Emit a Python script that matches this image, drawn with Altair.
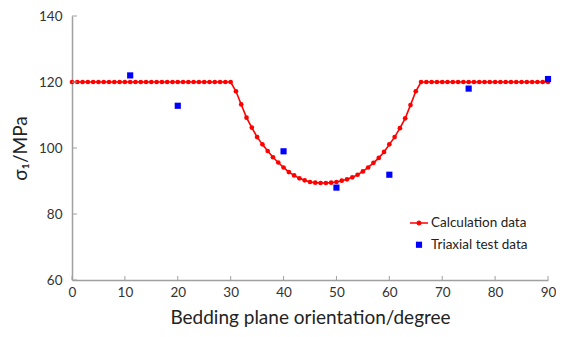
import altair as alt
import pandas as pd

# ---------------- data ----------------
angle = [0, 1, 2, 3, 4, 5, 6, 7, 8, 9, 10, 11, 12, 13, 14, 15, 16, 17, 18, 19, 20,
         21, 22, 23, 24, 25, 26, 27, 28, 29, 30, 31, 32, 33, 34, 35, 36, 37, 38, 39, 40,
         41, 42, 43, 44, 45, 46, 47, 48, 49, 50, 51, 52, 53, 54, 55, 56, 57, 58, 59, 60,
         61, 62, 63, 64, 65, 66, 67, 68, 69, 70, 71, 72, 73, 74, 75, 76, 77, 78, 79, 80,
         81, 82, 83, 84, 85, 86, 87, 88, 89, 90]
sigma_calc = [120, 120, 120, 120, 120, 120, 120, 120, 120, 120, 120,
              120, 120, 120, 120, 120, 120, 120, 120, 120, 120,
              120, 120, 120, 120, 120, 120, 120, 120, 120, 120,
              117.2, 113.2, 109.2, 106.2, 103.3, 101.1, 99.1, 97.2, 95.6, 94.1,
              92.7, 91.7, 90.8, 90.2, 89.7, 89.5, 89.4, 89.4, 89.5, 89.7,
              90.1, 90.5, 91.1, 91.9, 92.9, 94.1, 95.5, 97.0, 98.8, 101.1,
              103.3, 106.0, 109.0, 113.0, 117.2, 120, 120, 120, 120, 120,
              120, 120, 120, 120, 120, 120, 120, 120, 120, 120,
              120, 120, 120, 120, 120, 120, 120, 120, 120, 120]
test_angle = [11, 20, 40, 50, 60, 75, 90]
sigma_test = [122.0, 112.8, 99.0, 88.0, 91.9, 118.0, 120.9]

series_names = ["Calculation data", "Triaxial test data"]
x_ticks = [0, 10, 20, 30, 40, 50, 60, 70, 80, 90]
y_ticks = [60, 80, 100, 120, 140]

# ---------------- styling ----------------
RED = "#ff0000"
BLUE = "#0000ff"
AXIS_GREY = "#a0a0a0"
FONT = "Lato"
W, H = 476, 264

calc = pd.DataFrame({"angle": angle, "sigma": sigma_calc})
test = pd.DataFrame({"angle": test_angle, "sigma": sigma_test})
legend_df = pd.DataFrame({"series": series_names})
xt = pd.DataFrame({"angle": x_ticks})
yt = pd.DataFrame({"sigma": y_ticks})

xs = alt.Scale(domain=[0, 90], nice=False, zero=False)
ys = alt.Scale(domain=[60, 140], nice=False, zero=False)

x_axis = alt.Axis(values=x_ticks, ticks=False, tickSize=0, grid=False, labelFlush=False,
                  domainColor=AXIS_GREY, domainWidth=1.5,
                  labelFont=FONT, labelFontSize=13.5, labelColor="#333333", labelPadding=5,
                  title="Bedding plane orientation/degree", titleFont=FONT,
                  titleFontSize=19, titleFontWeight="normal", titleColor="#222222",
                  titlePadding=10)
y_axis = alt.Axis(values=y_ticks, ticks=False, tickSize=0, grid=False, labelFlush=False,
                  domainColor=AXIS_GREY, domainWidth=1.5,
                  labelFont=FONT, labelFontSize=13.5, labelColor="#333333", labelPadding=10,
                  title="σ₁/MPa", titleFont=FONT,
                  titleFontSize=19, titleFontWeight="normal", titleColor="#222222",
                  titlePadding=8)

X = alt.X("angle:Q", scale=xs, axis=x_axis)
Y = alt.Y("sigma:Q", scale=ys, axis=y_axis)

line = alt.Chart(calc).mark_line(color=RED, strokeWidth=1.6).encode(x=X, y=Y)
dots = alt.Chart(calc).mark_circle(color=RED, size=22, opacity=1).encode(x=X, y=Y)
squares = alt.Chart(test).mark_square(color=BLUE, size=38, opacity=1).encode(x=X, y=Y)

xticks = alt.Chart(xt).mark_rule(color=AXIS_GREY, strokeWidth=1).encode(
    x=X, y=alt.value(H), y2=alt.value(H - 4))
yticks = alt.Chart(yt).mark_rule(color=AXIS_GREY, strokeWidth=1).encode(
    y=Y, x=alt.value(0), x2=alt.value(5))

line_symbol = ("M-1,-0.085H1V0.085H-1Z"
               "M0.28,0A0.28,0.28 0 1,1 -0.28,0A0.28,0.28 0 1,1 0.28,0Z")
legend = alt.Legend(title=None, orient="none", legendX=337, legendY=197,
                    labelFont=FONT, labelFontSize=13.5, labelColor="#222222",
                    labelOffset=2, rowPadding=7, padding=0)
legend_layer = alt.Chart(legend_df).transform_filter("false").mark_point(
    filled=True, opacity=1).encode(
    color=alt.Color("series:N", scale=alt.Scale(domain=series_names, range=[RED, BLUE]),
                    legend=legend),
    shape=alt.Shape("series:N", scale=alt.Scale(domain=series_names,
                                                range=[line_symbol, "square"]),
                    legend=legend),
    size=alt.Size("series:N", scale=alt.Scale(domain=series_names, range=[324, 38]),
                  legend=legend),
)

chart = alt.layer(line, dots, squares, xticks, yticks, legend_layer).properties(
    width=W, height=H,
    autosize=alt.AutoSizeParams(type="none"),
    padding={"left": 64, "top": 8, "right": 8, "bottom": 49},
    background="white",
).configure_view(stroke=None)

chart.save("out.html", embed_options={"renderer": "svg", "actions": False})
